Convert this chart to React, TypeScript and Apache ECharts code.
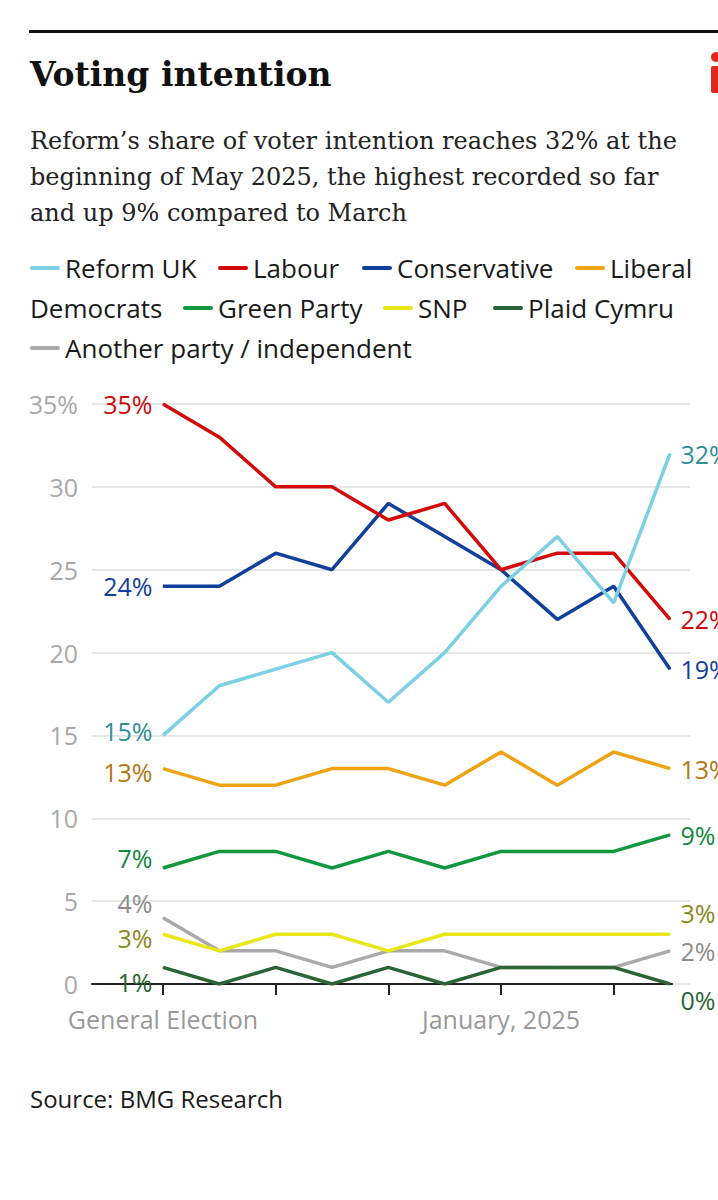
import { useEffect, useRef } from "react";
import * as echarts from "echarts";

// survey points, July 2024 general election to beginning of May 2025
const categories = [
  "General Election", "Aug 2024", "Sep 2024", "Oct 2024", "Nov 2024",
  "Dec 2024", "January, 2025", "Feb 2025", "Mar 2025", "May 2025",
];
const shownLabels = ["General Election", "January, 2025"];

const parties = [
  "Reform UK", "Labour", "Conservative", "Liberal Democrats",
  "Green Party", "SNP", "Plaid Cymru", "Another party / independent",
];

const reform = [15, 18, 19, 20, 17, 20, 24, 27, 23, 32];
const labour = [35, 33, 30, 30, 28, 29, 25, 26, 26, 22];
const conservative = [24, 24, 26, 25, 29, 27, 25, 22, 24, 19];
const libDem = [13, 12, 12, 13, 13, 12, 14, 12, 14, 13];
const green = [7, 8, 8, 7, 8, 7, 8, 8, 8, 9];
const snp = [3, 2, 3, 3, 2, 3, 3, 3, 3, 3];
const plaid = [1, 0, 1, 0, 1, 0, 1, 1, 1, 0];
const other = [4, 2, 2, 1, 2, 2, 1, 1, 1, 2];

const values = [reform, labour, conservative, libDem, green, snp, plaid, other];

const lineColors = ["#7dcfe3", "#d30a0a", "#11409c", "#eea315", "#10983f", "#e9e717", "#2b6535", "#a9a9ab"];
const labelColors = ["#2e8f99", "#cc0a0a", "#11409c", "#b57612", "#12893b", "#8a8a1c", "#2b6535", "#8c8c8c"];
// label vertical nudges [first, last] so the end labels don't collide
const labelShift = [[-4, 0], [0, 0], [0, 0], [3, 0], [-10, 0], [4, -21], [15, 16], [-15, 0]];

const SANS = "'Open Sans', 'Noto Sans', sans-serif";
const SERIF = "'DejaVu Serif', 'Liberation Serif', serif";

function legendGraphics() {
  const rows = [268, 308, 348];
  const items = [
    { i: 0, row: 0, x: 30, text: "Reform UK" },
    { i: 1, row: 0, x: 218, text: "Labour" },
    { i: 2, row: 0, x: 362, text: "Conservative" },
    { i: 3, row: 0, x: 575, text: "Liberal" },
    { i: 4, row: 1, x: 183, text: "Green Party" },
    { i: 5, row: 1, x: 383, text: "SNP" },
    { i: 6, row: 1, x: 493, text: "Plaid Cymru" },
    { i: 7, row: 2, x: 30, text: "Another party / independent" },
  ];
  const out: any[] = [];
  items.forEach((it) => {
    const y = rows[it.row];
    out.push({
      type: "line",
      shape: { x1: it.x + 2, y1: y, x2: it.x + 28, y2: y },
      style: { stroke: lineColors[it.i], lineWidth: 4, lineCap: "round" },
    });
    out.push({
      type: "text",
      x: it.x + 35,
      y,
      style: { text: it.text, fontSize: 26, fontFamily: SANS, fill: "#1a1a1a", verticalAlign: "middle" },
    });
  });
  out.push({
    type: "text",
    x: 30,
    y: rows[1],
    style: { text: "Democrats", fontSize: 26, fontFamily: SANS, fill: "#1a1a1a", verticalAlign: "middle" },
  });
  return out;
}

function Chart() {
  const ref = useRef<HTMLDivElement>(null);
  useEffect(() => {
    document.body.style.margin = "0";
    if (!ref.current) return;
    const chart = echarts.init(ref.current, undefined, { renderer: "svg" });
    const last = categories.length - 1;

    const series = parties.map((name, s) => ({
      name,
      type: "line",
      xAxisIndex: 0,
      yAxisIndex: 0,
      z: 20 - s,
      symbol: "circle",
      symbolSize: 1,
      showSymbol: true,
      silent: true,
      itemStyle: { color: lineColors[s] },
      lineStyle: { color: lineColors[s], width: 3.5 },
      label: { show: false },
      data: values[s].map((v, i) => {
        if (i !== 0 && i !== last) return v;
        const first = i === 0;
        return {
          value: v,
          label: {
            show: true,
            position: first ? "left" : "right",
            distance: 10,
            offset: [0, labelShift[s][first ? 0 : 1]],
            formatter: "{c}%",
            color: labelColors[s],
            fontSize: 25,
            fontFamily: SANS,
          },
        };
      }),
    }));

    chart.setOption({
      animation: false,
      backgroundColor: "#fff",
      grid: [
        { left: 163, right: 48, top: 404, bottom: 216 },
        { left: 92, right: 28, top: 404, bottom: 216 },
        { left: 92, right: 46, top: 404, bottom: 216 },
      ],
      xAxis: [
        {
          gridIndex: 0,
          type: "category",
          data: categories,
          boundaryGap: false,
          axisLine: { show: false },
          axisTick: {
            show: true,
            length: 11,
            interval: (i: number) => i % 2 === 0,
            lineStyle: { color: "#222", width: 2 },
          },
          axisLabel: {
            interval: 0,
            margin: 22,
            formatter: (v: string) => (shownLabels.includes(v) ? v : ""),
            color: "#999",
            fontSize: 25,
            fontFamily: SANS,
          },
        },
        { gridIndex: 1, type: "value", show: false },
        {
          gridIndex: 2,
          type: "value",
          axisLine: { show: true, onZero: false, lineStyle: { color: "#222", width: 2 } },
          axisTick: { show: false },
          axisLabel: { show: false },
          splitLine: { show: false },
        },
      ],
      yAxis: [
        { gridIndex: 0, type: "value", min: 0, max: 35, interval: 5, show: false },
        {
          gridIndex: 1,
          type: "value",
          min: 0,
          max: 35,
          interval: 5,
          axisLine: { show: false },
          axisTick: { show: false },
          axisLabel: {
            margin: 14,
            formatter: (v: number) => (v === 35 ? "35%" : String(v)),
            color: "#a8a8a8",
            fontSize: 25,
            fontFamily: SANS,
          },
          splitLine: { lineStyle: { color: "#e6e6e6", width: 2 } },
        },
        { gridIndex: 2, type: "value", min: 0, max: 35, show: false },
      ],
      graphic: [
        { type: "rect", shape: { x: 29, y: 30, width: 689, height: 3 }, style: { fill: "#111" } },
        {
          type: "text",
          x: 30,
          y: 74,
          style: {
            text: "Voting intention",
            fontSize: 33,
            fontWeight: "bold",
            fontFamily: SERIF,
            fill: "#111",
            verticalAlign: "middle",
          },
        },
        { type: "circle", shape: { cx: 716, cy: 57, r: 5 }, style: { fill: "#e2281e" } },
        { type: "rect", shape: { x: 711, y: 66, width: 11, height: 27, r: 2 }, style: { fill: "#e2281e" } },
        ...["Reform\u2019s share of voter intention reaches 32% at the",
          "beginning of May 2025, the highest recorded so far",
          "and up 9% compared to March"].map((t, i) => ({
          type: "text",
          x: 30,
          y: 141 + i * 36,
          style: { text: t, fontSize: 24, fontFamily: SERIF, fill: "#222", verticalAlign: "middle" },
        })),
        ...legendGraphics(),
        {
          type: "text",
          x: 30,
          y: 1098,
          style: { text: "Source: BMG Research", fontSize: 24, fontFamily: SANS, fill: "#1a1a1a", verticalAlign: "middle" },
        },
      ],
      series,
    });
    return () => chart.dispose();
  }, []);
  return <div ref={ref} style={{ width: 718, height: 1200 }} />;
}

export default function App() {
  return <Chart />;
}
